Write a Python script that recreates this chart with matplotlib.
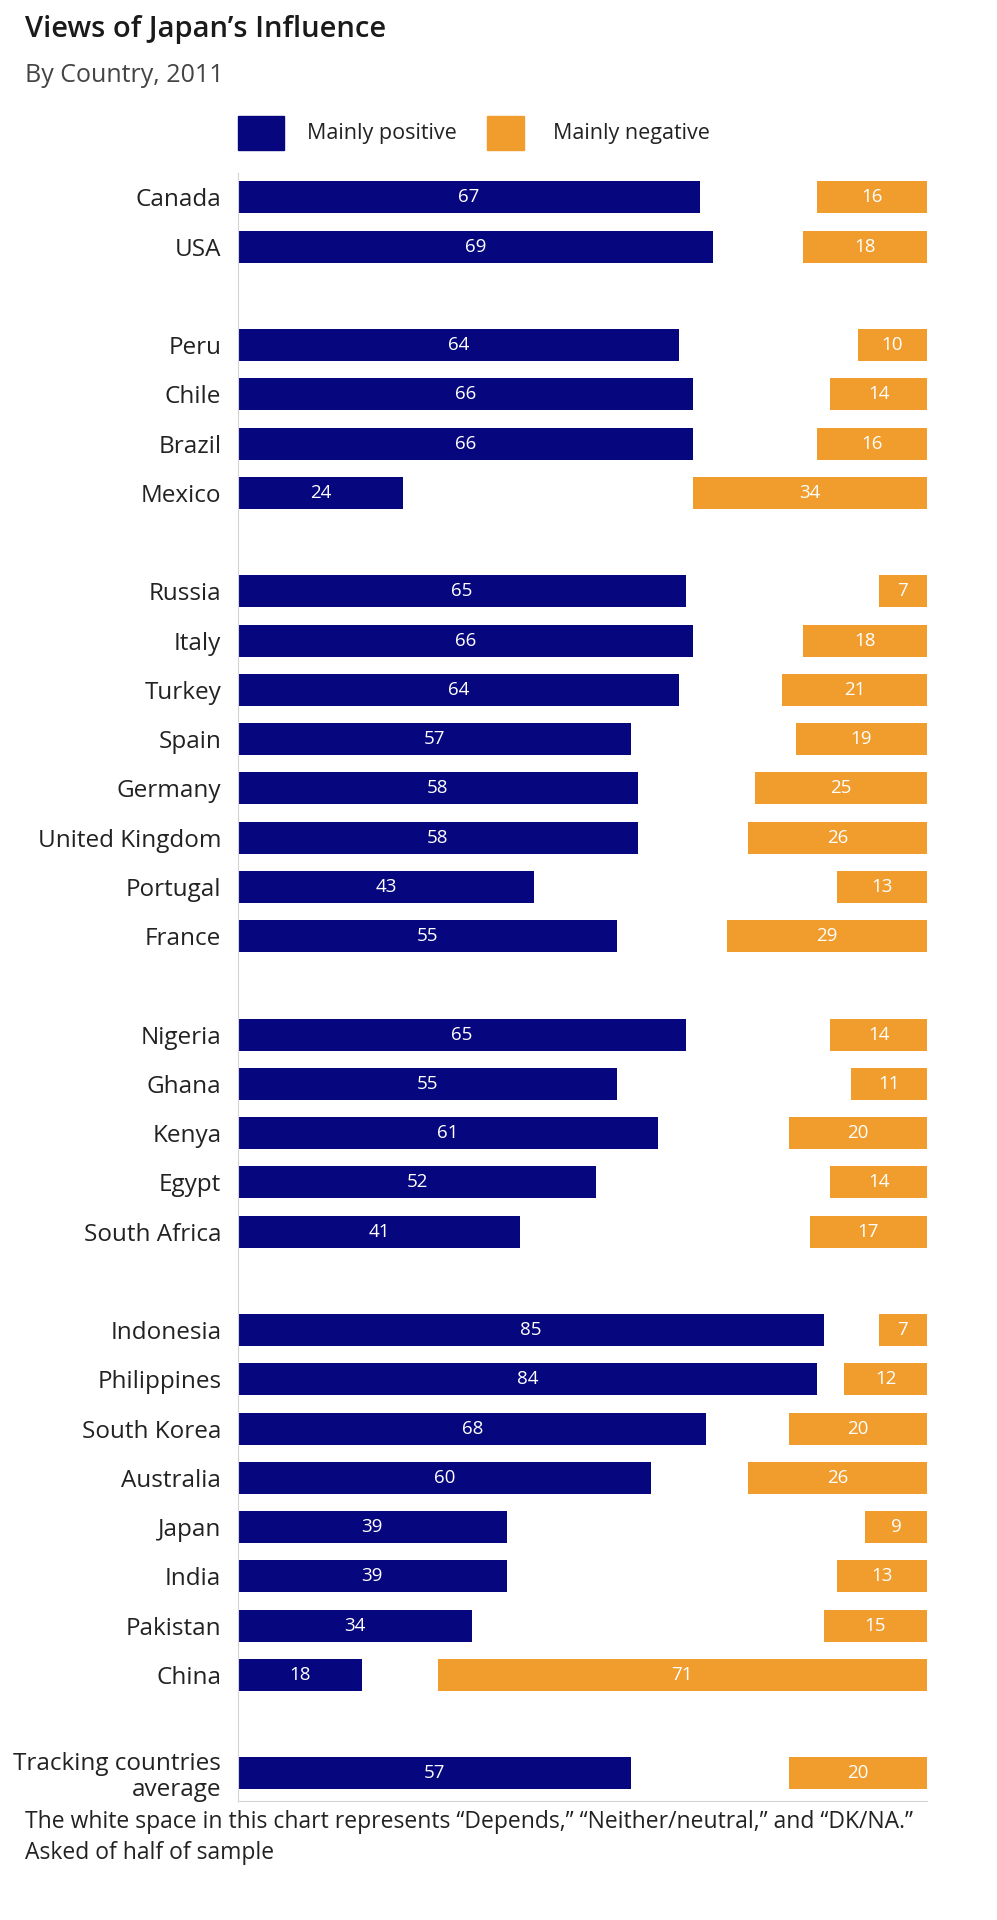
"""
Views of Japan's Influence, by country (2011) - diverging-style bar chart.
"""

import matplotlib
matplotlib.use("Agg")
import matplotlib.pyplot as plt
from matplotlib.patches import Rectangle

# ===== data =====
countries = [
    "Canada", "USA",
    "Peru", "Chile", "Brazil", "Mexico",
    "Russia", "Italy", "Turkey", "Spain", "Germany", "United Kingdom",
    "Portugal", "France",
    "Nigeria", "Ghana", "Kenya", "Egypt", "South Africa",
    "Indonesia", "Philippines", "South Korea", "Australia", "Japan",
    "India", "Pakistan", "China",
    "Tracking countries\naverage",
]
positive = [67, 69,
            64, 66, 66, 24,
            65, 66, 64, 57, 58, 58, 43, 55,
            65, 55, 61, 52, 41,
            85, 84, 68, 60, 39, 39, 34, 18,
            57]
negative = [16, 18,
            10, 14, 16, 34,
            7, 18, 21, 19, 25, 26, 13, 29,
            14, 11, 20, 14, 17,
            7, 12, 20, 26, 9, 13, 15, 71,
            20]
# rows per region block (a blank row separates blocks)
group_sizes = [2, 4, 8, 5, 8, 1]

# ===== style =====
NAVY = "#06067f"
ORANGE = "#f09d2e"
TEXT = "#222222"
plt.rcParams["font.family"] = ["Open Sans", "DejaVu Sans"]

# row positions from the grouping
ypos = []
row = 0
for g in group_sizes:
    ypos.extend(range(row, row + g))
    row += g + 1

fig = plt.figure(figsize=(9.97, 19.2), dpi=100)
ax = fig.add_axes([0.2387, 0.062, 0.691, 0.848])

bar_h = 0.65
ax.barh(ypos, positive, height=bar_h, color=NAVY, left=0)
ax.barh(ypos, negative, height=bar_h, color=ORANGE,
        left=[100 - v for v in negative])

for y, p, n in zip(ypos, positive, negative):
    ax.text(p / 2, y, str(p), color="white", ha="center", va="center",
            fontsize=13.5)
    ax.text(100 - n / 2, y, str(n), color="white", ha="center", va="center",
            fontsize=13.5)

ax.set_xlim(0, 100)
ax.set_ylim(ypos[-1] + 0.56, -0.5)
ax.set_yticks(ypos)
ax.set_yticklabels(countries, fontsize=17.5, color=TEXT, linespacing=1.1)
ax.tick_params(axis="y", length=0, pad=12)
ax.set_xticks([])
for s in ["top", "right"]:
    ax.spines[s].set_visible(False)
ax.spines["left"].set_color("#d4d4d4")
ax.spines["bottom"].set_color("#d4d4d4")

# ---- titles ----
fig.text(25 / 997, 1 - 30 / 1920, "Views of Japan\u2019s Influence",
         fontsize=21, color="#1a1a1a", ha="left", va="center",
         fontweight="semibold")
fig.text(25 / 997, 1 - 76 / 1920, "By Country, 2011",
         fontsize=18, color="#444444", ha="left", va="center")

# ---- legend ----
leg_y = 1 - 133 / 1920
sq_h = 33 / 1920
fig.patches.append(Rectangle((238 / 997, leg_y - sq_h / 2), 46 / 997, sq_h,
                             transform=fig.transFigure, color=NAVY))
fig.text(307 / 997, leg_y, "Mainly positive", fontsize=15.5, color=TEXT,
         ha="left", va="center")
fig.patches.append(Rectangle((487 / 997, leg_y - sq_h / 2), 37 / 997, sq_h,
                             transform=fig.transFigure, color=ORANGE))
fig.text(553 / 997, leg_y, "Mainly negative", fontsize=15.5, color=TEXT,
         ha="left", va="center")

# ---- footnote ----
fig.text(25 / 997, 1 - 1822 / 1920,
         "The white space in this chart represents \u201cDepends,\u201d "
         "\u201cNeither/neutral,\u201d and \u201cDK/NA.\u201d",
         fontsize=16.5, color=TEXT, ha="left", va="center")
fig.text(25 / 997, 1 - 1853 / 1920, "Asked of half of sample",
         fontsize=16.5, color=TEXT, ha="left", va="center")

fig.savefig("out.png", dpi=100, facecolor="white")
